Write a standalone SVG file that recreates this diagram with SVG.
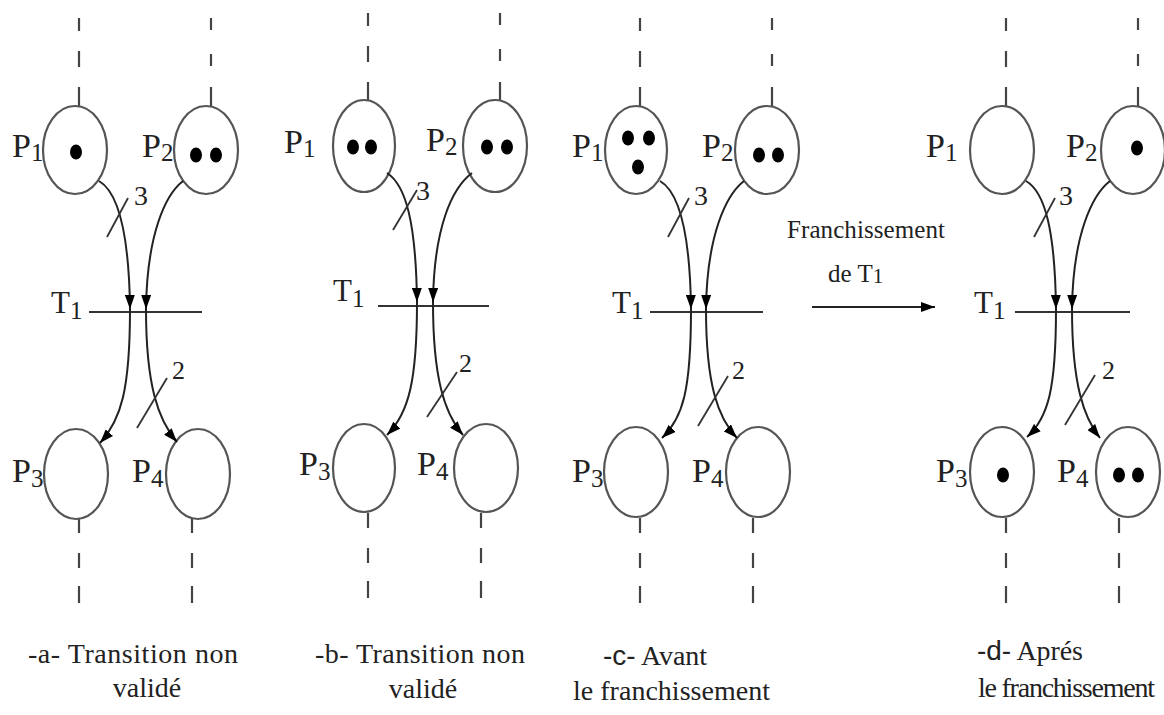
<svg xmlns="http://www.w3.org/2000/svg" width="1164" height="715" viewBox="0 0 1164 715">
<style>
.pl{fill:#fff;stroke:#555;stroke-width:2.2}
.tk{fill:#000}
.ln{stroke:#333;stroke-width:1.8;fill:none}
.ds{stroke:#444;stroke-width:2.2;fill:none}
.arc{stroke:#222;stroke-width:2;fill:none;marker-end:url(#ah)}
.tr{stroke:#333;stroke-width:2.2}
.lb{font-family:"Liberation Serif","Times New Roman",serif;fill:#222}
.P{font-size:34px}
.s{font-size:25px}
.w{font-size:28px}
.cap{font-family:"Liberation Serif","Times New Roman",serif;fill:#222;font-size:28px}
</style>
<defs>
<marker id="ah" viewBox="0 0 14 10" refX="14" refY="5" markerWidth="14" markerHeight="10" markerUnits="userSpaceOnUse" orient="auto"><path d="M0,0 L14,5 L0,10 z" fill="#000"/></marker>
<g id="vertA">
<path class="ds" d="M79,18 V31 M79,51 V67 M79,87 V107"/>
<path class="ds" d="M211,18 V30 M211,54 V66 M211,87 V107"/>
<path class="ds" d="M79,518 V533 M79,553 V568 M79,586 V603"/>
<path class="ds" d="M192,518 V533 M192,553 V568 M192,586 V603"/>
</g>
</defs>

<!-- Panel a -->
<g id="panel-a">
<use href="#vertA"/>
<g id="a-T1"><line class="tr" x1="89" y1="312" x2="202" y2="312"/><text class="lb" x="51" y="313" font-size="31">T<tspan class="s" dy="6">1</tspan></text></g>
<g id="a-P1"><ellipse class="pl" cx="75" cy="150" rx="32" ry="44"/><ellipse class="tk" cx="76" cy="152" rx="6" ry="7.5"/><text class="lb P" x="12" y="157">P<tspan class="s" dy="4">1</tspan></text></g>
<g id="a-P2"><ellipse class="pl" cx="206" cy="150" rx="32" ry="44"/><ellipse class="tk" cx="196" cy="155" rx="6" ry="7.5"/><ellipse class="tk" cx="216" cy="155" rx="6" ry="7.5"/><text class="lb P" x="142" y="157">P<tspan class="s" dy="4">2</tspan></text></g>
<g id="a-P3"><ellipse class="pl" cx="76" cy="474" rx="32" ry="45"/><text class="lb P" x="12" y="482">P<tspan class="s" dy="5">3</tspan></text></g>
<g id="a-P4"><ellipse class="pl" cx="198" cy="474" rx="32" ry="45"/><text class="lb P" x="132" y="482">P<tspan class="s" dy="5">4</tspan></text></g>
<g id="a-connectors">
<path class="arc" d="M99,181 C118,192 129,230 130,309"/>
<path class="arc" d="M183,181 C165,195 147,235 146,309"/>
<path class="arc" d="M130,309 C130,390 121,420 100,443"/>
<path class="arc" d="M146,309 C146,385 158,420 177,442"/>
<line class="ln" x1="107" y1="237" x2="128" y2="198"/>
<line class="ln" x1="137" y1="428" x2="167" y2="378"/>
<text class="lb w" x="134" y="205">3</text>
<text class="lb" font-size="26" x="172" y="379">2</text>
</g>
</g>

<!-- Panel b -->
<g id="panel-b" transform="translate(289,-5)">
<use href="#vertA"/>
<g id="b-T1"><line class="tr" x1="89" y1="311" x2="200" y2="311"/><text class="lb" x="44" y="306" font-size="31">T<tspan class="s" dy="6">1</tspan></text></g>
<g id="b-P1"><ellipse class="pl" cx="75" cy="151" rx="31" ry="46"/><ellipse class="tk" cx="64" cy="152" rx="6" ry="7.5"/><ellipse class="tk" cx="82" cy="152" rx="6" ry="7.5"/><text class="lb P" x="-5" y="158">P<tspan class="s" dy="4">1</tspan></text></g>
<g id="b-P2"><ellipse class="pl" cx="206" cy="151" rx="32" ry="46"/><ellipse class="tk" cx="198" cy="152" rx="6" ry="7.5"/><ellipse class="tk" cx="218" cy="152" rx="6" ry="7.5"/><text class="lb P" x="137" y="156">P<tspan class="s" dy="4">2</tspan></text></g>
<g id="b-P3"><ellipse class="pl" cx="75" cy="473" rx="31" ry="44"/><text class="lb P" x="10" y="480">P<tspan class="s" dy="5">3</tspan></text></g>
<g id="b-P4"><ellipse class="pl" cx="197" cy="473" rx="32" ry="44"/><text class="lb P" x="128" y="480">P<tspan class="s" dy="5">4</tspan></text></g>
<g id="b-connectors">
<path class="arc" d="M98,178 C117,190 127,228 128,307"/>
<path class="arc" d="M183,178 C163,193 145,232 144,307"/>
<path class="arc" d="M128,307 C128,385 120,418 98,440"/>
<path class="arc" d="M144,307 C144,382 155,418 174,440"/>
<line class="ln" x1="104" y1="235" x2="128" y2="195"/>
<line class="ln" x1="138" y1="422" x2="168" y2="377"/>
<text class="lb w" x="127" y="205">3</text>
<text class="lb" font-size="26" x="170" y="377">2</text>
</g>
</g>

<!-- Panel c -->
<g id="panel-c" transform="translate(561,0)">
<use href="#vertA"/>
<g id="c-T1"><line class="tr" x1="89" y1="312" x2="202" y2="312"/><text class="lb" x="51" y="313" font-size="31">T<tspan class="s" dy="6">1</tspan></text></g>
<g id="c-P1"><ellipse class="pl" cx="75" cy="150" rx="31" ry="44"/><ellipse class="tk" cx="67" cy="138" rx="6" ry="7.5"/><ellipse class="tk" cx="88" cy="138" rx="6" ry="7.5"/><ellipse class="tk" cx="77" cy="167" rx="6" ry="7.5"/><text class="lb P" x="11" y="157">P<tspan class="s" dy="4">1</tspan></text></g>
<g id="c-P2"><ellipse class="pl" cx="206" cy="150" rx="32" ry="44"/><ellipse class="tk" cx="198" cy="155" rx="6" ry="7.5"/><ellipse class="tk" cx="217" cy="155" rx="6" ry="7.5"/><text class="lb P" x="141" y="157">P<tspan class="s" dy="4">2</tspan></text></g>
<g id="c-P3"><ellipse class="pl" cx="75" cy="472" rx="32" ry="45"/><text class="lb P" x="11" y="482">P<tspan class="s" dy="5">3</tspan></text></g>
<g id="c-P4"><ellipse class="pl" cx="197" cy="472" rx="32" ry="45"/><text class="lb P" x="131" y="482">P<tspan class="s" dy="5">4</tspan></text></g>
<g id="c-connectors">
<path class="arc" d="M99,181 C118,192 129,230 130,309"/>
<path class="arc" d="M183,181 C165,195 146,235 145,309"/>
<path class="arc" d="M130,309 C130,390 122,418 101,438"/>
<path class="arc" d="M145,309 C145,385 157,418 176,438"/>
<line class="ln" x1="107" y1="237" x2="128" y2="198"/>
<line class="ln" x1="137" y1="426" x2="167" y2="376"/>
<text class="lb w" x="133" y="205">3</text>
<text class="lb" font-size="26" x="171" y="379">2</text>
</g>
</g>

<!-- Panel d -->
<g id="panel-d" transform="translate(927,0)">
<use href="#vertA"/>
<g id="d-T1"><line class="tr" x1="88" y1="312" x2="203" y2="312"/><text class="lb" x="47" y="313" font-size="31">T<tspan class="s" dy="6">1</tspan></text></g>
<g id="d-P1"><ellipse class="pl" cx="75" cy="150" rx="32" ry="44"/><text class="lb P" x="-1" y="157">P<tspan class="s" dy="4">1</tspan></text></g>
<g id="d-P2"><ellipse class="pl" cx="206" cy="150" rx="32" ry="44"/><ellipse class="tk" cx="210" cy="148" rx="6" ry="7.5"/><text class="lb P" x="139" y="157">P<tspan class="s" dy="4">2</tspan></text></g>
<g id="d-P3"><ellipse class="pl" cx="75" cy="472" rx="32" ry="45"/><ellipse class="tk" cx="76" cy="475" rx="6" ry="7.5"/><text class="lb P" x="9" y="482">P<tspan class="s" dy="5">3</tspan></text></g>
<g id="d-P4"><ellipse class="pl" cx="201" cy="472" rx="32" ry="45"/><ellipse class="tk" cx="192" cy="475" rx="6" ry="7.5"/><ellipse class="tk" cx="211" cy="475" rx="6" ry="7.5"/><text class="lb P" x="130" y="482">P<tspan class="s" dy="5">4</tspan></text></g>
<g id="d-connectors">
<path class="arc" d="M99,181 C118,192 128,230 129,309"/>
<path class="arc" d="M183,181 C165,195 146,235 145,309"/>
<path class="arc" d="M129,309 C129,390 121,418 100,437"/>
<path class="arc" d="M145,309 C145,385 157,418 173,438"/>
<line class="ln" x1="107" y1="237" x2="128" y2="198"/>
<line class="ln" x1="138" y1="425" x2="168" y2="375"/>
<text class="lb w" x="132" y="205">3</text>
<text class="lb" font-size="26" x="175" y="379">2</text>
</g>
</g>

<!-- Franchissement arrow -->
<g id="firing">
<text class="lb" font-size="25" x="787" y="238" textLength="158">Franchissement</text>
<text class="lb" font-size="25" x="828" y="282">de T<tspan font-size="21" dy="1">1</tspan></text>
<path class="arc" d="M812,307 H935" style="stroke-width:2.2"/>
</g>

<!-- Captions -->
<g id="captions">
<text class="cap" x="28" y="663" textLength="210">-a- Transition non</text>
<text class="cap" x="147" y="697" text-anchor="middle">validé</text>
<text class="cap" x="315" y="663" textLength="210">-b- Transition non</text>
<text class="cap" x="423" y="698" text-anchor="middle">validé</text>
<text class="cap" x="603" y="665" textLength="104"><tspan font-family="Liberation Sans, sans-serif">-c-</tspan> Avant</text>
<text class="cap" x="573" y="700" textLength="197">le franchissement</text>
<text class="cap" x="977" y="660" textLength="106"><tspan font-family="Liberation Sans, sans-serif">-d-</tspan> Aprés</text>
<text class="cap" x="978" y="697" textLength="177">le franchissement</text>
</g>
</svg>
